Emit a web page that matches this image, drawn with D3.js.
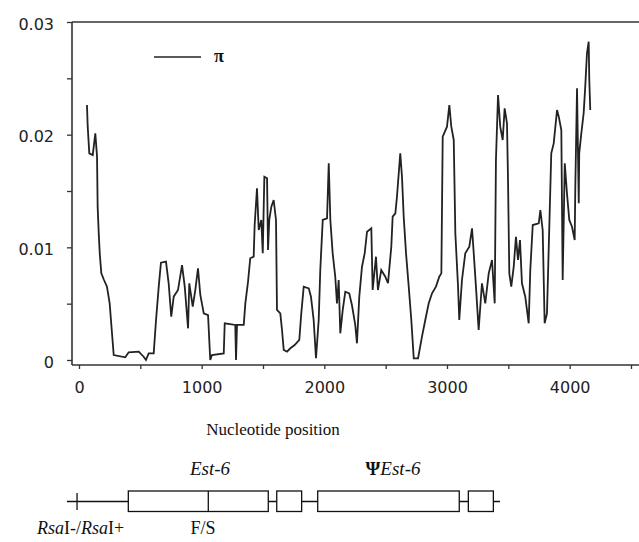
<!DOCTYPE html>
<html><head><meta charset="utf-8">
<script src="https://cdn.jsdelivr.net/npm/d3@7"></script>
<style>body{margin:0;background:#fff}</style>
</head><body>
<svg id="c" width="639" height="542"></svg>
<script>
// nucleotide positions and nucleotide diversity (pi)
const positions = [65,71,84,112,133,147,152,161,169,182,204,228,250,269,283,377,405,487,527,546,568,609,628,650,668,709,731,752,772,807,840,862,889,899,927,948,970,989,1017,1052,1070,
1084,1180,1188,1274,1280,1288,1343,1356,1378,1396,1424,1432,1451,1465,1486,1498,1511,1533,1541,1551,1568,1587,1606,1614,1641,1655,1669,1696,1723,1758,1796,1812,1832,1873,1891,1913,1932,1954,1967,1987,2022,2036,2049,2068,2089,2103,2117,2130,2150,2171,2203,
2225,2252,2266,2285,2307,2329,2348,2383,2394,2421,2437,2464,2497,2519,2546,2557,2579,2592,2619,2633,2647,2666,2688,2709,2729,2764,2796,2823,2851,2878,2910,2937,2954,2965,3000,3019,3035,3055,3068,3090,3100,3122,3149,3182,3204,3218,3236,3258,3285,3312,3340,3367,
3389,3399,3416,3434,3454,3470,3489,3497,3508,3524,3544,3562,3579,3595,3611,3638,3666,3679,3699,3748,3761,3780,3796,3815,3834,3850,3870,3897,3911,3932,3943,3960,3978,3997,4019,4041,4046,4060,4074,4078,4095,4114,4127,4141,4155,4160,4168];
const piValues = [0.02263,0.02071,0.01834,0.01819,0.02012,0.01805,0.01361,0.01124,0.00947,0.00769,0.0071,0.00651,0.00503,0.00237,0.00044,0.00024,0.00068,0.00074,0.00029,0.0,0.00059,0.00059,0.00355,0.00651,0.00864,0.00873,0.00681,0.00384,0.00562,0.00621,0.00843,0.00651,0.00281,0.00681,0.00473,0.00621,0.00814,0.00577,0.00414,0.00399,0.0,
0.00044,0.00059,0.00326,0.00311,0.0,0.00311,0.00311,0.00503,0.00695,0.00903,0.00917,0.01198,0.01524,0.01154,0.01243,0.00947,0.01627,0.01613,0.00976,0.01243,0.01361,0.0142,0.01243,0.00444,0.00414,0.00266,0.00089,0.00074,0.00104,0.00133,0.00178,0.00414,0.00651,0.00636,0.00562,0.00355,0.00015,0.00355,0.00799,0.01243,0.01258,0.01746,0.01243,0.00947,0.00739,0.00503,0.0071,0.00237,0.00444,0.00606,0.00592,
0.00488,0.00311,0.00148,0.00562,0.00828,0.00947,0.01139,0.01169,0.00621,0.00917,0.00621,0.00799,0.00739,0.00681,0.01006,0.01272,0.01302,0.01449,0.01834,0.01627,0.01272,0.00947,0.00651,0.00355,0.00015,0.00015,0.00207,0.00355,0.00503,0.00592,0.00651,0.00739,0.00769,0.01982,0.02071,0.02263,0.02071,0.01953,0.01124,0.00651,0.00355,0.0071,0.00947,0.01006,0.01169,0.00947,0.00651,0.00266,0.00681,0.00503,0.00769,0.00888,
0.00503,0.01775,0.02352,0.02071,0.01953,0.02234,0.02101,0.01627,0.00769,0.00651,0.00828,0.01094,0.00888,0.01065,0.00681,0.00562,0.00326,0.00799,0.01198,0.01213,0.01331,0.01154,0.00326,0.00414,0.01183,0.01834,0.01923,0.02219,0.0216,0.02041,0.0071,0.01746,0.01479,0.01243,0.01183,0.01065,0.01538,0.02411,0.01391,0.01834,0.02012,0.0219,0.02426,0.02722,0.02825,0.02485,0.02219];

const xTicks = [0,500,1000,1500,2000,2500,3000,3500,4000,4500];
const xLabels = ["0","","1000","","2000","","3000","","4000",""];
const yTicks = [0,0.005,0.01,0.015,0.02,0.025,0.03];
const yLabels = ["0","","0.01","","0.02","","0.03"];

// gene schematic (nucleotide coordinates)
const geneLine = [-98, 3432];
const rsaSite = -16;
const exons = [[402,1543],[1612,1815],[1946,3100],[3174,3378]];
const fsSite = 1054;

const svg = d3.select("#c");
const x = d3.scaleLinear().domain([0,4500]).range([79,631]);
const y = d3.scaleLinear().domain([0,0.03]).range([360,22]);
const axisY = 365, leftX = 72, rightX = 639;

// frame
svg.append("line").attr("x1",leftX).attr("x2",rightX).attr("y1",22).attr("y2",22)
  .attr("stroke","#333").attr("stroke-width",1.6);
svg.append("line").attr("x1",leftX).attr("x2",leftX).attr("y1",22).attr("y2",axisY)
  .attr("stroke","#333").attr("stroke-width",1.6);
svg.append("line").attr("x1",leftX).attr("x2",rightX).attr("y1",axisY).attr("y2",axisY)
  .attr("stroke","#333").attr("stroke-width",1.6);

const yAxis = d3.axisLeft(y).tickValues(yTicks).tickSize(5).tickPadding(13)
  .tickFormat((d,i)=>yLabels[i]);
const gy = svg.append("g").attr("transform",`translate(${leftX},0)`).call(yAxis);
gy.select(".domain").remove();
gy.selectAll("line").attr("stroke","#333").attr("stroke-width",1.3);
gy.selectAll("text").attr("font-family","DejaVu Sans").attr("font-size",16).attr("fill","#222").attr("dy","0.45em");

const xAxis = d3.axisBottom(x).tickValues(xTicks).tickSize(4).tickPadding(13)
  .tickFormat((d,i)=>xLabels[i]);
const gx = svg.append("g").attr("transform",`translate(0,${axisY})`).call(xAxis);
gx.select(".domain").remove();
gx.selectAll("line").attr("stroke","#333").attr("stroke-width",1.3);
gx.selectAll("text").attr("font-family","DejaVu Sans").attr("font-size",16).attr("fill","#222");

// data line
const data = positions.map((p,i)=>({p, v: piValues[i]}));
svg.append("path").datum(data)
  .attr("d", d3.line().x(d=>x(d.p)).y(d=>y(d.v)))
  .attr("fill","none").attr("stroke","#222").attr("stroke-width",1.8).attr("stroke-linejoin","miter");

// legend
svg.append("line").attr("x1",154).attr("x2",201).attr("y1",57).attr("y2",57).attr("stroke","#222").attr("stroke-width",1.6);
svg.append("text").attr("x",214).attr("y",62).attr("font-family","Liberation Serif").attr("font-weight","bold")
  .attr("font-size",18).attr("fill","#111").text("π");

// axis title
svg.append("text").attr("x",273).attr("y",435).attr("text-anchor","middle")
  .attr("font-family","Liberation Serif").attr("font-size",17).attr("fill","#111").text("Nucleotide position");

// gene schematic
const gY = 501.5, bTop = 491, bH = 20.5;
svg.append("line").attr("x1",x(geneLine[0])).attr("x2",x(geneLine[1])).attr("y1",gY).attr("y2",gY)
  .attr("stroke","#111").attr("stroke-width",1.3);
svg.append("line").attr("x1",x(rsaSite)).attr("x2",x(rsaSite)).attr("y1",493).attr("y2",510)
  .attr("stroke","#111").attr("stroke-width",1.3);
svg.selectAll("rect.exon").data(exons).enter().append("rect")
  .attr("x",d=>x(d[0])).attr("width",d=>x(d[1])-x(d[0])).attr("y",bTop).attr("height",bH)
  .attr("fill","#fff").attr("stroke","#111").attr("stroke-width",1.3);
svg.append("line").attr("x1",x(fsSite)).attr("x2",x(fsSite)).attr("y1",bTop).attr("y2",bTop+bH)
  .attr("stroke","#111").attr("stroke-width",1.3);

const serif = "Liberation Serif";
svg.append("text").attr("x",210).attr("y",475).attr("text-anchor","middle")
  .attr("font-family",serif).attr("font-style","italic").attr("font-size",19).attr("fill","#111").text("Est-6");
const t2 = svg.append("text").attr("x",393).attr("y",475).attr("text-anchor","middle")
  .attr("font-family",serif).attr("font-size",19).attr("fill","#111");
t2.append("tspan").attr("font-weight","bold").text("Ψ");
t2.append("tspan").attr("font-style","italic").text("Est-6");

const t3 = svg.append("text").attr("x",37).attr("y",534).attr("font-family",serif).attr("font-size",18).attr("fill","#111");
t3.append("tspan").attr("font-style","italic").text("Rsa");
t3.append("tspan").text("I-/");
t3.append("tspan").attr("font-style","italic").text("Rsa");
t3.append("tspan").text("I+");
svg.append("text").attr("x",203).attr("y",534).attr("text-anchor","middle")
  .attr("font-family",serif).attr("font-size",18).attr("fill","#111").text("F/S");
</script>
</body></html>
